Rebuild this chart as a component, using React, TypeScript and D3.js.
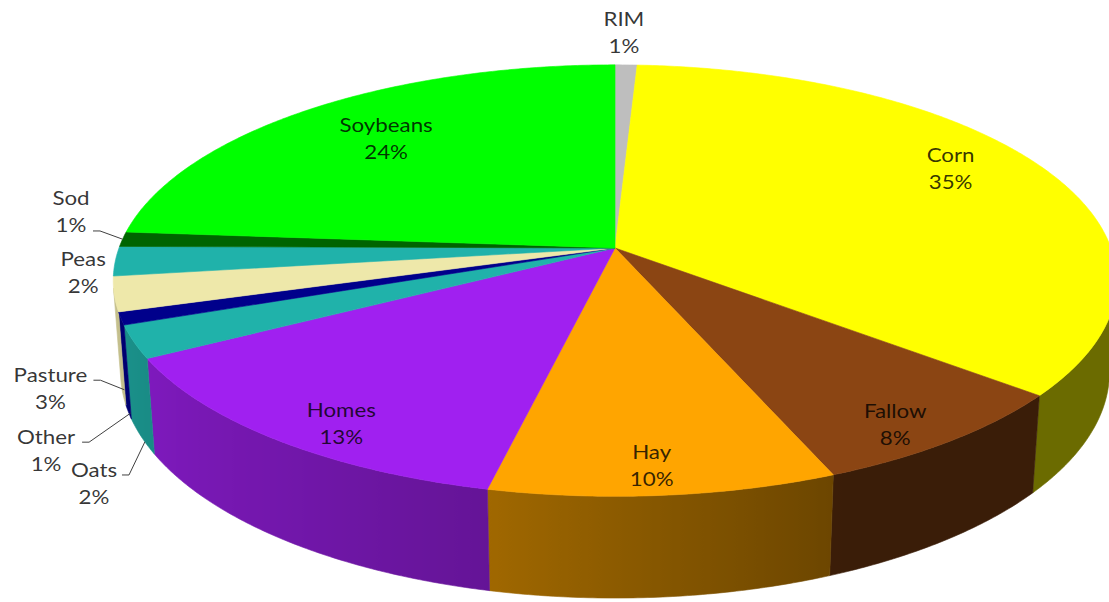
import React from 'react';
import * as d3 from 'd3';

// ---------- data ----------
const categories = ['RIM', 'Corn', 'Fallow', 'Hay', 'Homes', 'Oats', 'Other', 'Pasture', 'Peas', 'Sod', 'Soybeans'];
const values = [0.82, 35.1, 7.9, 9.7, 13.4, 2.45, 0.95, 2.6, 2.2, 1.1, 23.78];
const topColors = ['#BEBEBE', '#FFFF00', '#8B4513', '#FFA500', '#A020F0', '#20B2AA', '#00008B', '#EEE8AA', '#20B2AA', '#006400', '#00FF00'];

// ---------- label layout (polar position on the top face: degrees clockwise from 12 o'clock, radius fraction) ----------
const labelAngles = [1.0, 60.7, 145.9, 175.9, 213.6, 223.3, 230.1, 239.7, 263.9, 279.1, 318.5];
const labelRadii = [1.213, 0.823, 0.895, 0.894, 0.886, 1.311, 1.306, 1.198, 1.06, 1.141, 0.756];
// leader lines: anchor angle on slice, anchor depth (0 = top rim, 1 = bottom rim), start offset from label centre
type Leader = { angle: number | null; depth: number; dx: number; dy: number } | null;
const leaders: Leader[] = [
  null, null, null, null, null,
  { angle: 244, depth: 1.0, dx: 28, dy: -8 },
  { angle: 250, depth: 0.95, dx: 36, dy: -8 },
  { angle: 253.5, depth: 0.85, dx: 43, dy: -8 },
  null,
  { angle: null, depth: 0, dx: 22, dy: 20 },
  null,
];

// ---------- projection ----------
const W = 1109, H = 602;
const CX = 615, CY = 248, S = 496;
const PHI = Math.asin(210.8 / 496);
const KD = 0.1668; // R / camera distance
const THICK = 0.2037; // thickness / R

function project(thetaDeg: number, r: number, y: number): [number, number] {
  const t = (thetaDeg * Math.PI) / 180;
  const X = r * Math.sin(t);
  const Zf = r * Math.cos(t);
  const depth = 1 + KD * (Zf * Math.cos(PHI) - y * Math.sin(PHI));
  return [CX + (S * X) / depth, CY - (S * (y * Math.cos(PHI) + Zf * Math.sin(PHI))) / depth];
}

const visLimit = (Math.acos(-KD / Math.cos(PHI)) * 180) / Math.PI; // ~100.6
const visL = visLimit, visR = 360 - visLimit;

const shadeScale = d3.scaleLinear<number>()
  .domain([100, 157, 175, 193, 215, 245, 262])
  .range([0.42, 0.42, 0.52, 0.63, 0.71, 0.8, 0.85])
  .clamp(true);

function shade(c: string, f: number) {
  const rgb = d3.rgb(c);
  return d3.rgb(rgb.r * f, rgb.g * f, rgb.b * f).formatHex();
}

function samples(a: number, b: number, step = 0.5) {
  const n = Math.max(2, Math.ceil(Math.abs(b - a) / step) + 1);
  return d3.range(n).map((i) => a + ((b - a) * i) / (n - 1));
}

export default function App() {
  const total = d3.sum(values);
  const pie = d3.pie<number>().sort(null).value((d) => d)(values);
  const slices = pie.map((p, i) => ({
    i,
    a0: (p.startAngle * 180) / Math.PI,
    a1: (p.endAngle * 180) / Math.PI,
    color: topColors[i],
    name: categories[i],
    pct: Math.round((values[i] / total) * 100) + '%',
  }));

  const line = d3.line<[number, number]>();

  const walls = slices
    .map((s) => {
      const t1 = Math.max(s.a0, visL);
      const t2 = Math.min(s.a1, visR);
      if (t2 <= t1) return null;
      const ts = samples(t1, t2);
      const top = ts.map((t) => project(t, 1, 0));
      const bot = ts.slice().reverse().map((t) => project(t, 1, -THICK));
      const d = line([...top, ...bot] as [number, number][]) + 'Z';
      const xRight = project(t1, 1, 0)[0];
      const xLeft = project(t2, 1, 0)[0];
      const stops = samples(t2, t1, Math.max(0.5, (t1 - t2) / 12)).map((t) => ({
        offset: Math.abs(xRight - xLeft) < 0.01 ? 0 : (project(t, 1, 0)[0] - xLeft) / (xRight - xLeft),
        color: shade(s.color, shadeScale(t)),
      }));
      return { s, d, xLeft, xRight, stops };
    })
    .filter(Boolean) as any[];

  const tops = slices.map((s) => {
    const pts = samples(s.a0, s.a1).map((t) => project(t, 1, 0));
    return { s, d: line([[CX, CY], ...pts] as [number, number][]) + 'Z' };
  });

  const labels = slices.map((s) => {
    const [x, y] = project(labelAngles[s.i], labelRadii[s.i], 0);
    const ld = leaders[s.i];
    let leaderPts: [number, number][] | null = null;
    if (ld) {
      const ang = ld.angle == null ? (s.a0 + s.a1) / 2 : ld.angle;
      const pTop = project(ang, 1, 0);
      const pBot = project(ang, 1, -THICK);
      const anchor: [number, number] = [pTop[0] + (pBot[0] - pTop[0]) * ld.depth, pTop[1] + (pBot[1] - pTop[1]) * ld.depth];
      const start: [number, number] = [x + ld.dx, y + ld.dy];
      leaderPts = [start, [start[0] + 7, start[1]], anchor];
    }
    return { s, x, y, leaderPts };
  });

  return (
    <svg
      width={W}
      height={H}
      viewBox={`0 0 ${W} ${H}`}
      style={{ position: 'absolute', left: 0, top: 0, background: '#fff', overflow: 'hidden' }}
    >
      <defs>
        {walls.map((w: any) => (
          <linearGradient key={w.s.i} id={`wall${w.s.i}`} gradientUnits="userSpaceOnUse" x1={w.xLeft} y1={0} x2={w.xRight} y2={0}>
            {w.stops.map((st: any, k: number) => (
              <stop key={k} offset={Math.min(1, Math.max(0, st.offset))} stopColor={st.color} />
            ))}
          </linearGradient>
        ))}
      </defs>
      <rect width={W} height={H} fill="#fff" />
      <g>
        {walls.map((w: any) => (
          <path key={w.s.i} d={w.d} fill={`url(#wall${w.s.i})`} stroke={`url(#wall${w.s.i})`} strokeWidth={0.6} />
        ))}
      </g>
      <g>
        {tops.map((t) => (
          <path key={t.s.i} d={t.d} fill={t.s.color} stroke={t.s.color} strokeWidth={0.6} strokeLinejoin="round" />
        ))}
      </g>
      <g>
        {labels.map((l) =>
          l.leaderPts ? (
            <polyline key={l.s.i} points={l.leaderPts.map((p) => p.join(',')).join(' ')} fill="none" stroke="#404040" strokeWidth={1} />
          ) : null
        )}
      </g>
      <g fontFamily="Lato, 'Open Sans', sans-serif" fontSize={18.6} fill="#000" fillOpacity={0.8}>
        {labels.map((l) => (
          <g key={l.s.i} transform={`translate(${l.x},${l.y}) scale(1.2,1)`}>
            <text textAnchor="middle" y={-13.5} dominantBaseline="central">{l.s.name}</text>
            <text textAnchor="middle" y={14} dominantBaseline="central">{l.s.pct}</text>
          </g>
        ))}
      </g>
    </svg>
  );
}
